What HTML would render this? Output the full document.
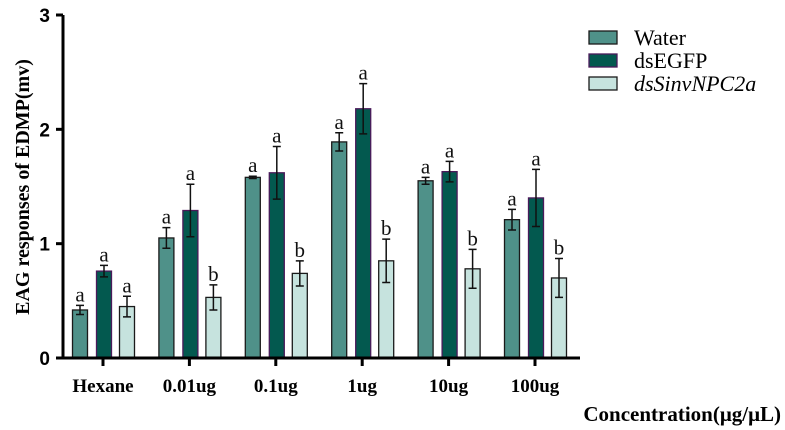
<!DOCTYPE html>
<html><head><meta charset="utf-8"><style>body{margin:0;background:#fff}svg{display:block}</style></head>
<body>
<svg id="c" width="785" height="430" xmlns="http://www.w3.org/2000/svg"></svg>
<script>
const categories=["Hexane","0.01ug","0.1ug","1ug","10ug","100ug"];
const seriesNames=["Water","dsEGFP","dsSinvNPC2a"];
const water=[0.42,1.05,1.58,1.89,1.55,1.21];
const waterErr=[0.04,0.09,0.01,0.08,0.03,0.09];
const dsegfp=[0.76,1.29,1.62,2.18,1.63,1.40];
const dsegfpErr=[0.05,0.23,0.23,0.22,0.09,0.25];
const dsnpc=[0.45,0.53,0.74,0.85,0.78,0.70];
const dsnpcErr=[0.09,0.11,0.11,0.19,0.17,0.17];
const letters=[["a","a","a","a","a","a"],["a","a","a","a","a","a"],["a","b","b","b","b","b"]];
const yTicks=[0,1,2,3];

const svg=document.getElementById('c');const NS="http://www.w3.org/2000/svg";
function el(t,a,txt){const e=document.createElementNS(NS,t);for(const k in a)e.setAttribute(k,a[k]);if(txt!==undefined)e.textContent=txt;svg.appendChild(e);return e;}
const y0=358,yTop=15,yMax=3;
const yS=v=>y0-(y0-yTop)*v/yMax;
const xS=i=>103+i*86.4;
const offs=[-23,1,24],bw=15;
const fills=["#4f9189","#03594f","#c6e3de"],strokes=["#1a1a1a","#4a1a5a","#1a1a1a"];
const data=[water,dsegfp,dsnpc],errs=[waterErr,dsegfpErr,dsnpcErr];
data.forEach((s,si)=>{s.forEach((v,i)=>{
  const cx=xS(i)+offs[si];
  const r=el('rect',{x:cx-bw/2,y:yS(v),width:bw,height:y0-yS(v),fill:fills[si],stroke:strokes[si],'stroke-width':1.3});
  
  
  const e=errs[si][i],yt=yS(v+e),yb=yS(v-e);
  const g=el('path',{d:`M${cx},${yt}V${yb}M${cx-4},${yt}H${cx+4}M${cx-4},${yb}H${cx+4}`,stroke:'#111','stroke-width':1.5,fill:'none'});
  
  
  const t=el('text',{x:cx,y:yt-4,'text-anchor':'middle','font-family':'Liberation Serif, serif','font-size':21,fill:'#111'},letters[si][i]);
  
  
});});
el('path',{d:`M63,${yTop}V${y0}H580`,stroke:'#000','stroke-width':3,fill:'none',});
yTicks.forEach(v=>{
  el('line',{x1:56,x2:63,y1:yS(v),y2:yS(v),stroke:'#000','stroke-width':3});
  const t=el('text',{x:50,y:yS(v)+7,'text-anchor':'end','font-family':'Liberation Sans, sans-serif','font-weight':'bold','font-size':19},String(v));
  
  
});
categories.forEach((c,i)=>{
  el('line',{x1:xS(i),x2:xS(i),y1:y0,y2:y0+8,stroke:'#000','stroke-width':3});
  const t=el('text',{x:xS(i),y:392,'text-anchor':'middle','font-family':'Liberation Serif, serif','font-weight':'bold','font-size':19},c);
  
  
});
el('text',{x:781,y:421,'text-anchor':'end','font-family':'Liberation Serif, serif','font-weight':'bold','font-size':21,},'Concentration(μg/μL)');
el('text',{x:0,y:0,transform:'translate(29,187) rotate(-90)','text-anchor':'middle','font-family':'Liberation Serif, serif','font-weight':'bold','font-size':20,},'EAG responses of EDMP(mv)');
seriesNames.forEach((n,si)=>{
  const y=31+si*23;
  el('rect',{x:589,y:y,width:28,height:13,fill:fills[si],stroke:strokes[si],'stroke-width':1.3,});
  const t=el('text',{x:634,y:y+14,'font-family':'Liberation Serif, serif','font-size':22,'font-style':si==2?'italic':'normal'},n);
  
  
});
</script>
</body></html>
